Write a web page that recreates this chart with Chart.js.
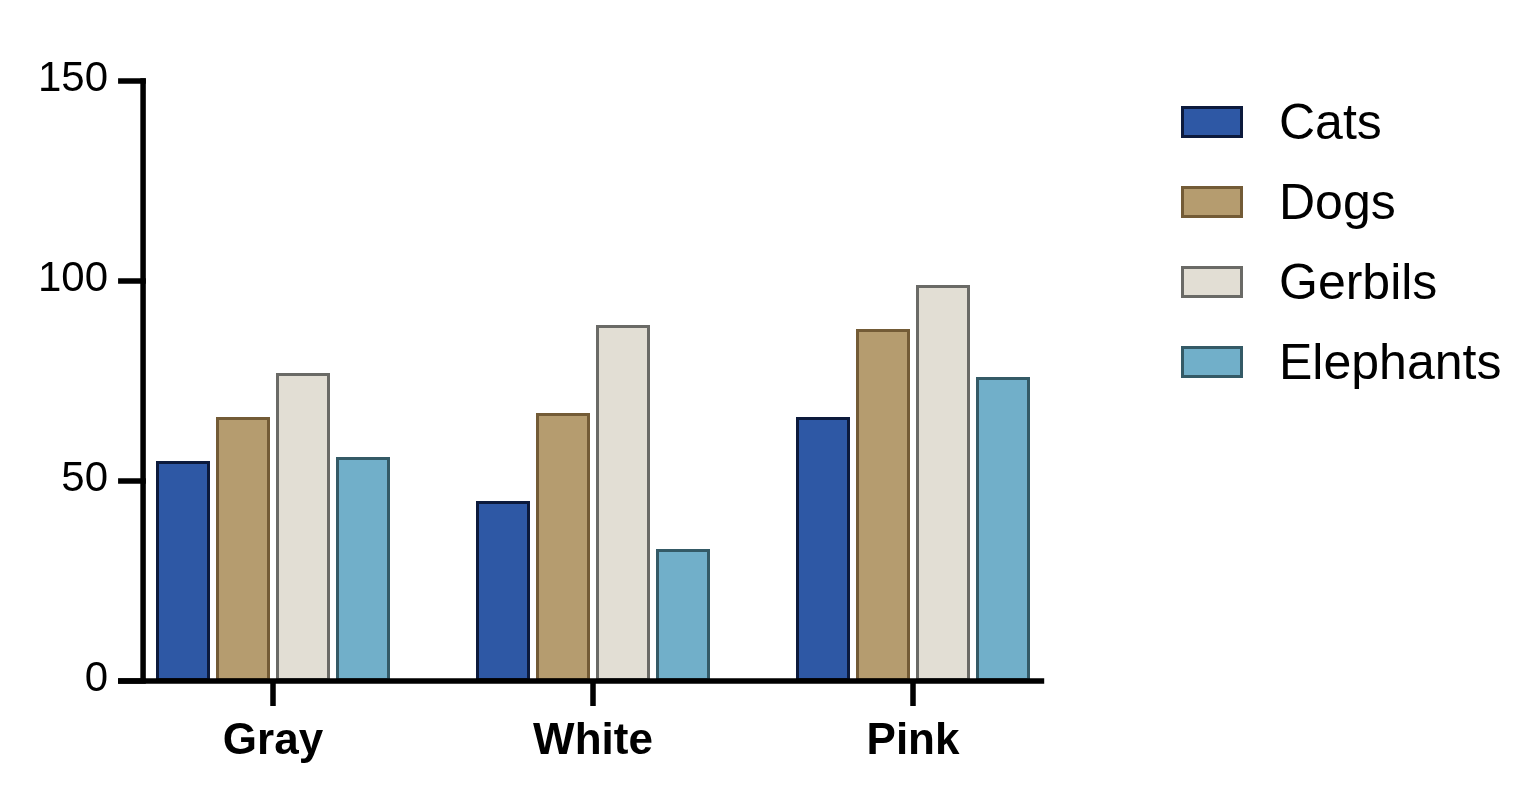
<!DOCTYPE html>
<html>
<head>
<meta charset="utf-8">
<script src="https://cdn.jsdelivr.net/npm/chart.js@4.4.1/dist/chart.umd.min.js"></script>
<style>
html,body{margin:0;padding:0;background:#fff;overflow:hidden;}
canvas{display:block;}
</style>
</head>
<body>
<canvas id="c" width="1539" height="802" style="width:1539px;height:802px"></canvas>
<script>
// ---- data ----
const categories = ["Gray", "White", "Pink"];
const seriesNames = ["Cats", "Dogs", "Gerbils", "Elephants"];
const cats = [55, 45, 66];
const dogs = [66, 67, 88];
const gerbils = [77, 89, 99];
const elephants = [56, 33, 76];
const yTicks = [0, 50, 100, 150];

const fills = ["#2E58A5", "#B59C6F", "#E2DED4", "#71AFC9"];
const borders = ["#0C1A3C", "#735B36", "#6A6A66", "#345A66"];
const values = [cats, dogs, gerbils, elephants];

const datasets = seriesNames.map((n, i) => ({
  label: n,
  data: values[i],
  backgroundColor: fills[i],
  borderColor: borders[i],
  borderWidth: 3,
  borderSkipped: false,
  barPercentage: 0.9,
  categoryPercentage: 0.75
}));

const AXIS_W = 5.5;
const axesPlugin = {
  id: 'axesPlugin',
  afterDatasetsDraw(chart) {
    const ctx = chart.ctx;
    const x = chart.scales.x, y = chart.scales.y;
    const c0 = x.getPixelForValue(0);
    const cw = x.getPixelForValue(1) - c0;
    const cl = x.getPixelForValue(categories.length - 1);
    const axX = c0 - 0.406 * cw;
    const rightX = cl + 0.41 * cw;
    const y0 = y.getPixelForValue(0);
    const yTop = y.getPixelForValue(yTicks[yTicks.length - 1]);
    const tickLen = 25;
    ctx.save();
    ctx.strokeStyle = '#000';
    ctx.lineWidth = AXIS_W;
    ctx.lineCap = 'butt';
    // y axis line
    ctx.beginPath();
    ctx.moveTo(axX, yTop - AXIS_W / 2);
    ctx.lineTo(axX, y0);
    ctx.stroke();
    // y ticks
    yTicks.forEach(v => {
      const py = y.getPixelForValue(v);
      ctx.beginPath();
      ctx.moveTo(axX - tickLen, py);
      ctx.lineTo(axX + AXIS_W / 2, py);
      ctx.stroke();
    });
    // x axis line
    ctx.beginPath();
    ctx.moveTo(axX - tickLen, y0);
    ctx.lineTo(rightX, y0);
    ctx.stroke();
    // x ticks
    categories.forEach((c, i) => {
      const px = x.getPixelForValue(i);
      ctx.beginPath();
      ctx.moveTo(px, y0);
      ctx.lineTo(px, y0 + tickLen);
      ctx.stroke();
    });
    ctx.restore();
  },
  afterDraw(chart) {
    const ctx = chart.ctx;
    const bx = chart.chartArea.right + 108;
    const bw = 62, bh = 32;
    const startY = 122, step = 80;
    ctx.save();
    ctx.font = '50px "Liberation Sans", Arial, sans-serif';
    ctx.textBaseline = 'middle';
    ctx.textAlign = 'left';
    chart.data.datasets.forEach((ds, i) => {
      const cy = startY + i * step;
      ctx.fillStyle = ds.borderColor;
      ctx.fillRect(bx, cy - bh / 2, bw, bh);
      ctx.fillStyle = ds.backgroundColor;
      ctx.fillRect(bx + 3, cy - bh / 2 + 3, bw - 6, bh - 6);
      ctx.fillStyle = '#000';
      ctx.fillText(ds.label, bx + bw + 36, cy + 3);
    });
    ctx.restore();
  }
};

new Chart(document.getElementById('c'), {
  type: 'bar',
  data: { labels: categories, datasets },
  options: {
    responsive: false,
    animation: false,
    devicePixelRatio: 1,
    layout: { padding: { left: 0, right: 466, top: 81, bottom: 0 } },
    plugins: { legend: { display: false }, tooltip: { enabled: false } },
    scales: {
      x: {
        offset: true,
        grid: { display: false, drawTicks: false },
        border: { display: false },
        ticks: {
          color: '#000',
          padding: 34,
          font: { family: '"Liberation Sans", Arial, sans-serif', size: 44, weight: 'bold' }
        },
        afterFit(s) { s.height = 121; }
      },
      y: {
        min: 0, max: 150,
        afterBuildTicks(s) { s.ticks = yTicks.map(v => ({ value: v })); },
        grid: { display: false, drawTicks: false },
        border: { display: false },
        ticks: {
          color: '#000',
          padding: 5,
          labelOffset: -2,
          font: { family: '"Liberation Sans", Arial, sans-serif', size: 42 }
        },
        afterFit(s) { s.width = 113; }
      }
    }
  },
  plugins: [axesPlugin]
});
</script>
</body>
</html>
